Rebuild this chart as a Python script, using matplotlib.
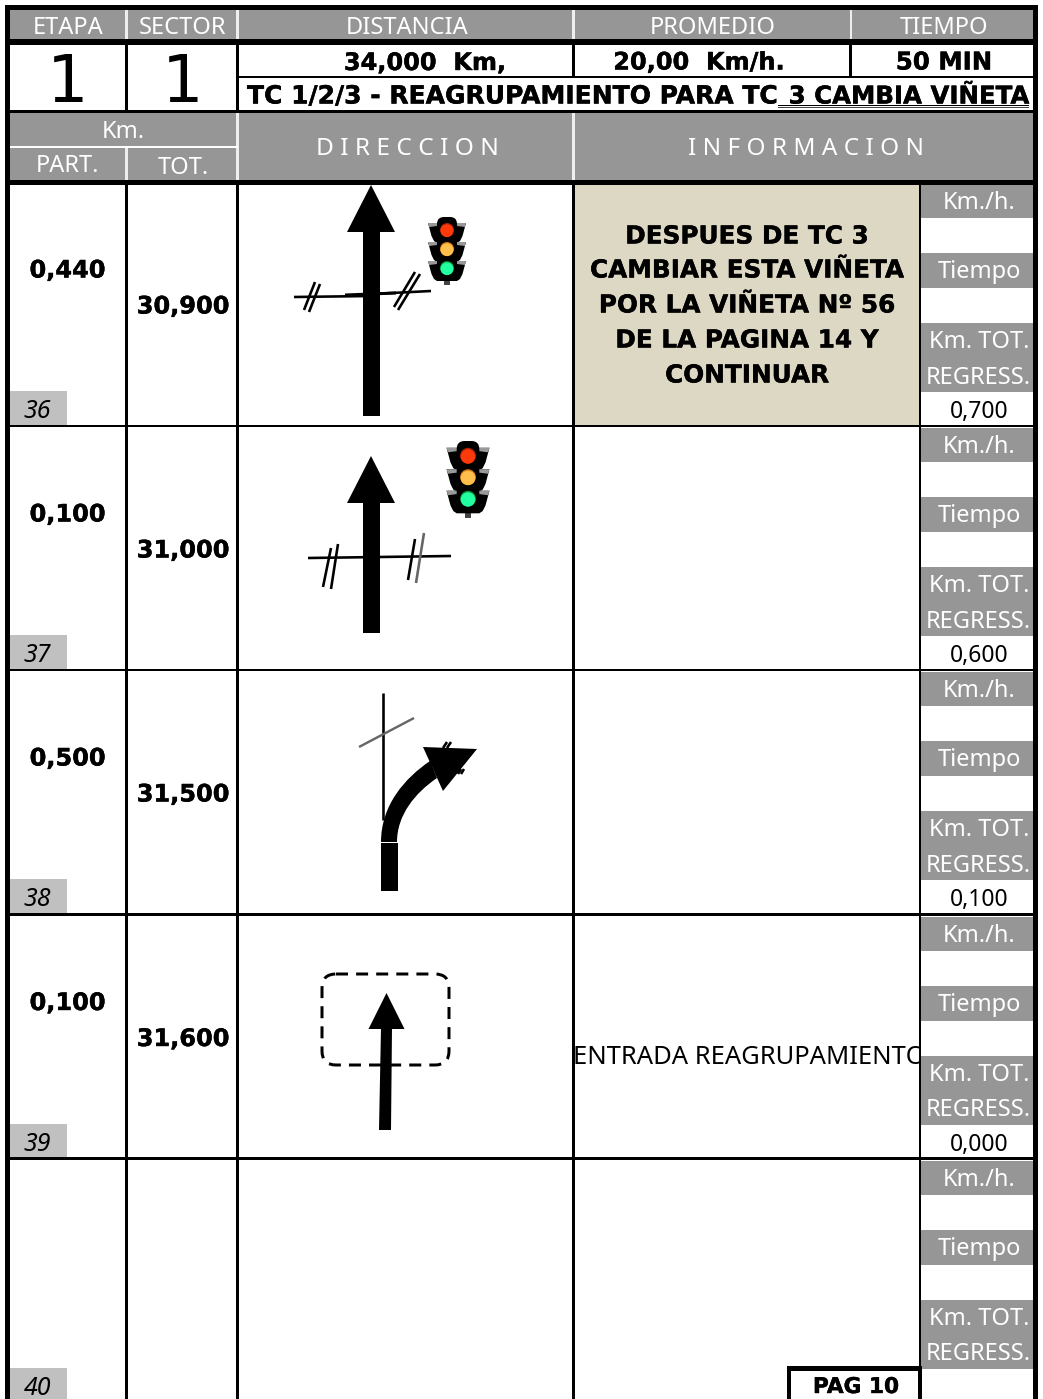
import matplotlib
matplotlib.use("Agg")
import matplotlib.pyplot as plt
import matplotlib.patheffects as pe
from matplotlib.path import Path
from matplotlib.patches import Rectangle, Polygon, Circle, FancyBboxPatch, PathPatch

# table contents
header_labels = ["ETAPA", "SECTOR", "DISTANCIA", "PROMEDIO", "TIEMPO"]
etapa = "1"
sector = "1"
distancia = "34,000  Km,"
promedio = "20,00  Km/h."
tiempo = "50 MIN"
title_start = "TC 1/2/3 - REAGRUPAMIENTO PARA TC"
title_underlined = "3 CAMBIA VIÑETA"
parcial = ["0,440", "0,100", "0,500", "0,100", ""]
total = ["30,900", "31,000", "31,500", "31,600", ""]
regresivo = ["0,700", "0,600", "0,100", "0,000", ""]
numeros = ["36", "37", "38", "39", "40"]
side_labels = ["Km./h.", "Tiempo", "Km. TOT.", "REGRESS."]
nota = ["DESPUES DE TC 3", "CAMBIAR ESTA VIÑETA", "POR LA VIÑETA Nº 56",
        "DE LA PAGINA 14 Y", "CONTINUAR"]
entrada = "ENTRADA REAGRUPAMIENTO"
pagina = "PAG 10"

GREY = "#969696"
BEIGE = "#DDD8C4"
LIGHT = "#C0C0C0"
REG = "Noto Sans"
BOLD = "DejaVu Sans"
PX = 0.72  # points per pixel at dpi 100

fig = plt.figure(figsize=(10.43, 13.99), dpi=100)
ax = fig.add_axes([0, 0, 1, 1])
ax.set_xlim(0, 1043)
ax.set_ylim(1399, 0)
ax.axis("off")


def box(x0, y0, x1, y1, color, z=1):
    ax.add_patch(Rectangle((x0, y0), x1 - x0, y1 - y0, fc=color, ec="none", lw=0, zorder=z))


def txt(x, y, s, size=17, color="white", font=REG, **kw):
    return ax.text(x, y, s, fontsize=size, color=color, family=font, ha=kw.pop("ha", "center"),
                   va="center_baseline", zorder=kw.pop("zorder", 6), **kw)


def bold(x, y, s, size=17.3, **kw):
    t = txt(x, y, s, size, "black", BOLD, weight="bold", **kw)
    t.set_path_effects([pe.withStroke(linewidth=0.3, foreground="black")])
    return t


def line(pts, color="black", w=2.6, z=4, **kw):
    xs, ys = zip(*pts)
    ax.plot(xs, ys, color=color, lw=w * PX, zorder=z, solid_capstyle="butt", **kw)


def straight_arrow(tip_x, tip_y, base_y, half, sx0, sx1, sx0b, sx1b, bottom):
    ax.add_patch(Polygon([(tip_x, tip_y), (tip_x + half, base_y), (tip_x - half, base_y)],
                         fc="black", ec="none", zorder=5))
    ax.add_patch(Polygon([(sx0, base_y - 1), (sx1, base_y - 1), (sx1b, bottom), (sx0b, bottom)],
                         fc="black", ec="none", zorder=5))


def traffic_light(cx, top, k):
    # three stacked housings, k scales the whole signal
    ys = [13, 32, 51]
    box(cx - 3 * k, top + 60 * k, cx + 3 * k, top + 68 * k, "#444444", 5)
    ax.add_patch(FancyBboxPatch((cx - 10 * k, top + 0 * k), 20 * k, 62 * k,
                                boxstyle="round,pad=0,rounding_size=%.1f" % (7 * k),
                                fc="black", ec="none", zorder=5))
    colors = ["#FF3A0A", "#FFBF4D", "#22FFA0"]
    darks = ["#A82000", "#D97A10", "#0A8A30"]
    lobe = [(-19, -7), (19, -7), (15.5, 6), (13, 11), (10, 13), (-10, 13), (-13, 11), (-15.5, 6)]
    for y, c, d in zip(ys, colors, darks):
        yy = top + y * k
        ax.add_patch(Polygon([(cx + a * k, yy + b * k) for a, b in lobe],
                             fc="black", ec="none", zorder=5))
        for s in [-1, 1]:
            ax.add_patch(Polygon([(cx + s * 19 * k, yy - 7 * k), (cx + s * 10 * k, yy - 7 * k),
                                  (cx + s * 10 * k, yy - 4 * k), (cx + s * 17.8 * k, yy - 3 * k)],
                                 fc="#999999", ec="none", zorder=5.5))
        ax.add_patch(Circle((cx, yy), 7 * k, fc=d, ec="none", zorder=5.6))
        ax.add_patch(Circle((cx, yy + 0.7 * k), 6.4 * k, fc=c, ec="none", zorder=5.7))


# outer frame and header fills
box(0, 0, 1043, 1399, "white", 0)
box(9, 9, 1034, 40, GREY)
box(9, 113, 1034, 181, GREY)
box(5, 4.5, 1038, 10, "black", 4)
box(5, 4.5, 10, 1399, "black", 4)
box(1033, 4.5, 1038, 1399, "black", 4)
box(5, 39, 1038, 44.5, "black", 4)
box(5, 110, 1038, 113, "black", 4)
box(5, 179.5, 1038, 184.5, "black", 4)
box(238, 75.5, 1034, 78, "black", 4)

# white separators in the grey bands
for x in [126.5, 237.5, 573.5, 851]:
    box(x - 1.2, 10, x + 1.2, 39, "#EEEEEE", 3)
for x in [237.5, 573.5]:
    box(x - 1.2, 113, x + 1.2, 180, "#EEEEEE", 3)
box(10, 145.5, 238, 148, "white", 3)
box(125.3, 148, 127.7, 180, "#EEEEEE", 3)

# black separators of the summary row
for x in [126.5, 237.5]:
    box(x - 1.3, 44, x + 1.3, 110, "black", 4)
for x in [573.5, 850.5]:
    box(x - 1.3, 44, x + 1.3, 76, "black", 4)

# header text
for x, s in zip([68, 183, 407, 713, 944], header_labels):
    txt(x, 24.5, s)
txt(123, 129.5, "Km.")
txt(67.5, 163.5, "PART.")
txt(183, 165.5, "TOT.")
txt(407, 146, "D I R E C C I O N", 17.6)
txt(806, 146, "I N F O R M A C I O N", 17.5)

# summary row
txt(67.5, 77.5, etapa, 47, "black", BOLD)
txt(183, 77.5, sector, 47, "black", BOLD)
bold(425, 60.5, distancia)
bold(699, 60, promedio)
bold(944, 60, tiempo, 17.6)
bold(247, 94, title_start, 18, ha="left")
bold(1029, 94, title_underlined, 17.6, ha="right")
box(778, 104.5, 1029, 105.7, "black", 7)
box(778, 107.3, 1029, 108.5, "#444444", 7)

# body rows
row_tops = [182, 426, 670, 914.5, 1158.5]
for i, r in enumerate(row_tops):
    if i > 0:
        box(10, r - 1.2, 1034, r + 1.4, "black", 4)
    box(10, r + 209, 67, r + 243, LIGHT, 1)
    txt(37.5, r + 227, numeros[i], 18, "black", style="italic")
    if parcial[i]:
        bold(67.5, r + 86, parcial[i])
        bold(183, r + 122, total[i])
    box(921, r + 2, 1033, r + 36, GREY, 1)
    box(921, r + 71, 1033, r + 106, GREY, 1)
    box(921, r + 141, 1033, r + 210, GREY, 1)
    txt(979, r + 18, side_labels[0])
    txt(979, r + 87.5, side_labels[1])
    txt(979, r + 157.5, side_labels[2])
    txt(978.5, r + 192.5, side_labels[3])
    if regresivo[i]:
        txt(979, r + 227, regresivo[i], 16.5, "black")

# column rules through the body
for x in [126.5, 237.5, 573.5, 920]:
    box(x - 1.3, 184, x + 1.3, 1399, "black", 4)

# note cell
box(575, 184, 919, 425, BEIGE, 1)
for y, s in zip([234, 268, 303, 338, 373], nota):
    bold(747, y, s, 17.8)

t = txt(749, 1054, entrada, 18.4, "black")
t.set_clip_path(Rectangle((574, 1000), 345, 100, transform=ax.transData))
t.set_clip_on(True)

# page tag
box(787, 1366, 922, 1370.5, "black", 7)
box(787, 1366, 791, 1399, "black", 7)
box(918, 1366, 922, 1399, "black", 7)
box(791, 1370, 918, 1399, "white", 3)
bold(856, 1385, pagina, 15.6)

# vignette 36
straight_arrow(371, 185, 232, 24, 363, 380, 363, 380, 416)
line([(294, 297), (372, 296)])
line([(345, 295), (396, 293)], w=3)
line([(372, 294), (431, 291)])
line([(315, 282), (304, 310)])
line([(320, 284), (309, 312)])
line([(415, 272), (394, 307)])
line([(420, 274), (398, 310)])
traffic_light(447, 217, 1.0)

# vignette 37
straight_arrow(371, 456, 503, 24, 363, 380, 363, 380, 633)
line([(308, 558), (451, 556)])
line([(331, 548), (323, 587)])
line([(338, 544), (331, 589)])
line([(415, 539), (408, 580)])
line([(424, 533), (416, 583)], color="#666666")
traffic_light(468, 441, 1.13)

# vignette 38
line([(383, 693), (383, 820)])
line([(359, 747), (414, 718)], color="#666666", w=2.4)
box(381, 843, 398, 891, "black", 5)
curve = Path([(381, 842), (381, 805), (405, 778), (430, 761), (437, 778), (415, 793), (397, 815), (397, 842), (381, 842)],
             [Path.MOVETO, Path.CURVE4, Path.CURVE4, Path.CURVE4, Path.LINETO,
              Path.CURVE4, Path.CURVE4, Path.CURVE4, Path.CLOSEPOLY])
ax.add_patch(PathPatch(curve, fc="black", ec="none", zorder=5))
ax.add_patch(Polygon([(423, 747), (477, 749), (443, 791)], fc="black", ec="none", zorder=5))
line([(443, 748), (447, 742)])
line([(447, 748), (451, 742)])
line([(458, 774), (461, 769)])
line([(461, 774), (464, 769)])

# vignette 39
ax.add_patch(FancyBboxPatch((322, 974), 127, 91, boxstyle="round,pad=0,rounding_size=14",
                            fc="none", ec="black", lw=3 * PX, ls=(0, (4, 2.7)), zorder=4))
straight_arrow(386.5, 993, 1029, 18, 381, 392, 379, 391, 1130)

fig.savefig("out.png", dpi=100)
